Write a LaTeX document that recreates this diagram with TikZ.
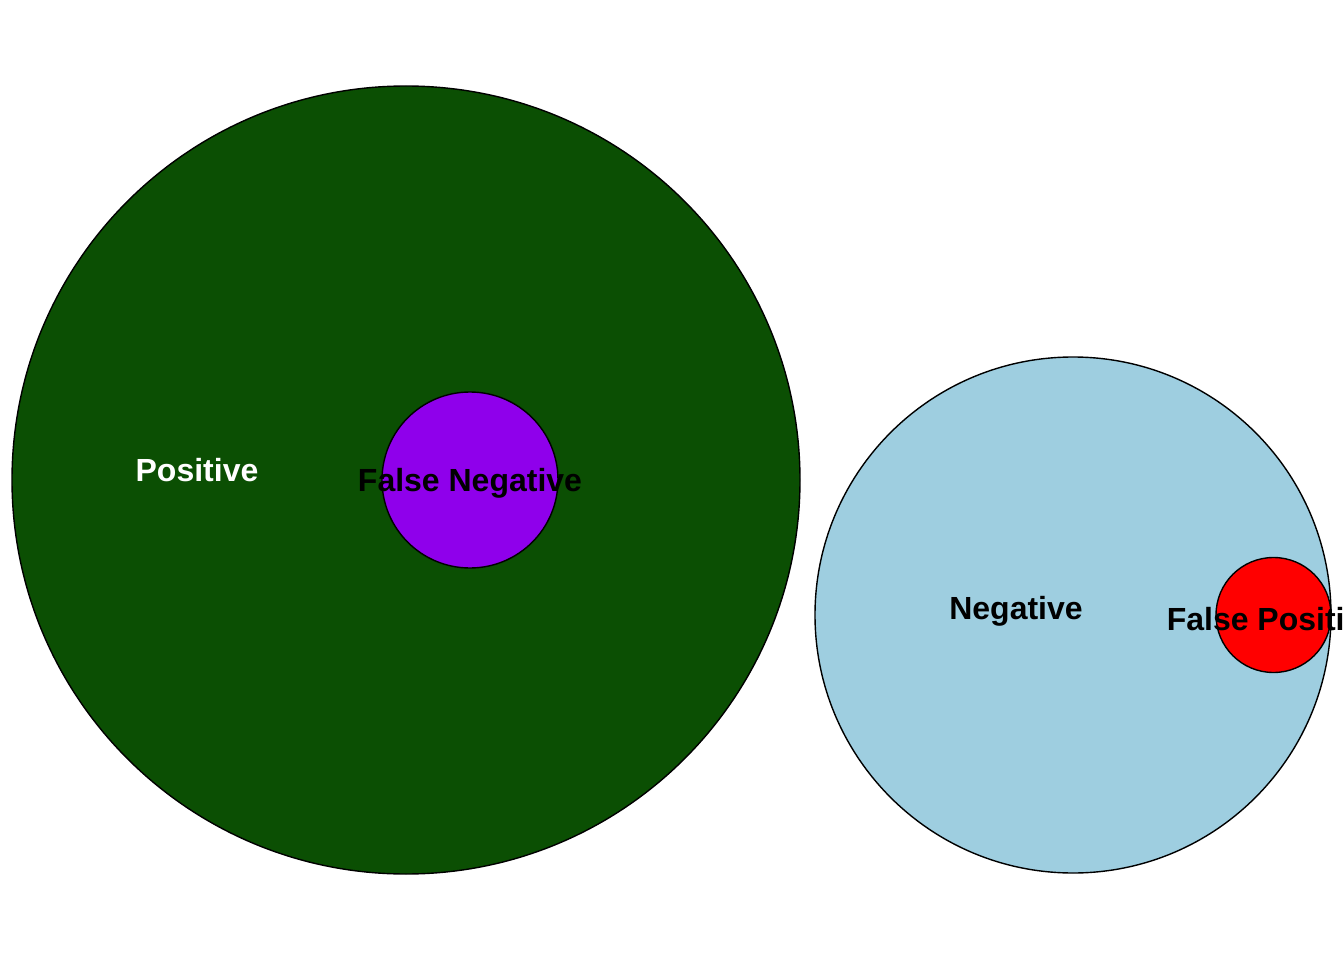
\documentclass[tikz,border=0pt]{standalone}
\usepackage{fontspec}
\setmainfont{Liberation Sans}
\definecolor{posgreen}{RGB}{11,79,3}
\definecolor{negblue}{RGB}{158,206,224}
\definecolor{fnpurple}{RGB}{143,0,235}
\definecolor{fpred}{RGB}{255,0,0}
\tikzset{
  setcircle/.style={circle, draw=black, line width=1.4pt, inner sep=0pt},
  setlabel/.style={font=\fontsize{32}{36}\selectfont\bfseries, inner sep=0pt, anchor=center},
}
\begin{document}
\begin{tikzpicture}[x=1pt,y=-1pt]
\useasboundingbox (0,0) rectangle (1344,960);
\clip (0,0) rectangle (1344,960);
\node[setcircle, fill=posgreen, minimum size=788pt] (pos) at (406,480) {};
\node[setcircle, fill=fnpurple, minimum size=176pt] (fn) at (470,480) {};
\node[setcircle, fill=negblue, minimum size=516pt] (neg) at (1073,615) {};
\node[setcircle, fill=fpred, minimum size=115pt] (fp) at (1273.5,615) {};
\node[setlabel, text=white] (poslabel) at (197,470) {Positive};
\node[setlabel, text=black] (fnlabel) at (470,483) {False Negative};
\node[setlabel, text=black] (neglabel) at (1016,611) {Negative};
\node[setlabel, text=black] (fplabel) at (1273.5,619) {False Positive};
\end{tikzpicture}
\end{document}
